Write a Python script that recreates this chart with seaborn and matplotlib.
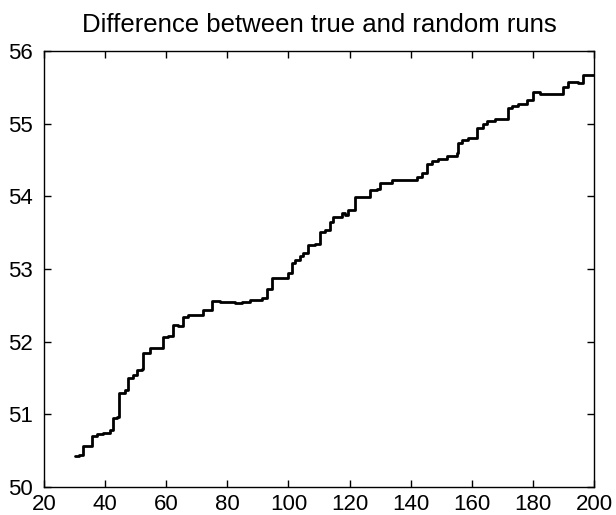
import matplotlib
matplotlib.use("Agg")
import matplotlib.pyplot as plt
import seaborn as sns
import pandas as pd

run_x = [30.1, 31.6, 32.7, 35.1, 35.6, 37.2, 39.4, 41.6, 42.7, 43.8, 44.6, 46.5, 47.6, 49.2,
         50.5, 52.0, 52.5, 54.7, 57.7, 58.8, 60.7, 62.3, 63.9, 65.6, 67.2, 70.5, 72.1, 73.8,
         74.9, 77.6, 82.5, 84.7, 87.4, 91.2, 92.9, 94.5, 98.9, 99.9, 101.1, 102.1, 103.8,
         104.9, 106.5, 108.7, 110.3, 112.0, 113.6, 114.7, 117.4, 118.5, 119.6, 121.8, 125.0,
         126.7, 128.9, 129.9, 132.1, 133.8, 138.7, 142.0, 143.6, 145.2, 146.9, 149.0, 151.8,
         155.0, 155.6, 156.7, 158.8, 161.6, 163.7, 164.9, 167.6, 170.9, 171.9, 173.0, 175.2,
         178.0, 179.9, 182.3, 188.8, 189.9, 191.6, 193.8, 194.9, 196.5, 200.0]
run_diff = [50.42, 50.44, 50.57, 50.57, 50.70, 50.73, 50.75, 50.79, 50.95, 50.97, 51.29, 51.34,
            51.50, 51.54, 51.61, 51.62, 51.85, 51.91, 51.91, 52.06, 52.08, 52.23, 52.21, 52.34,
            52.37, 52.37, 52.43, 52.44, 52.56, 52.54, 52.53, 52.55, 52.57, 52.60, 52.73, 52.88,
            52.88, 52.95, 53.08, 53.12, 53.18, 53.22, 53.33, 53.35, 53.51, 53.54, 53.65, 53.72,
            53.77, 53.75, 53.81, 53.99, 53.99, 54.09, 54.10, 54.18, 54.18, 54.23, 54.23, 54.26,
            54.32, 54.45, 54.48, 54.51, 54.55, 54.59, 54.73, 54.78, 54.80, 54.94, 55.00, 55.04,
            55.06, 55.07, 55.21, 55.24, 55.27, 55.32, 55.43, 55.41, 55.41, 55.50, 55.58, 55.58,
            55.56, 55.67, 55.67]
x_ticks = [20, 40, 60, 80, 100, 120, 140, 160, 180, 200]
y_ticks = [50, 51, 52, 53, 54, 55, 56]
title = "Difference between true and random runs"

sns.set_style("ticks")
plt.rcParams["font.family"] = ["Liberation Sans", "DejaVu Sans"]

df = pd.DataFrame({"x": run_x, "y": run_diff})

fig = plt.figure(figsize=(6.16, 5.15), dpi=100)
ax = fig.add_axes([44 / 616, 1 - 487 / 515, 550 / 616, 436 / 515])
sns.lineplot(data=df, x="x", y="y", ax=ax, color="black", linewidth=2.0,
             drawstyle="steps-post", estimator=None, sort=False)

ax.set_xlim(20, 200)
ax.set_ylim(50, 56)
ax.set_xticks(x_ticks)
ax.set_yticks(y_ticks)
ax.set_xticklabels([str(v) for v in x_ticks])
ax.set_yticklabels([str(v) for v in y_ticks])
ax.set_xlabel("")
ax.set_ylabel("")
for s in ax.spines.values():
    s.set_visible(True)
    s.set_linewidth(1.0)
    s.set_color("black")
ax.tick_params(direction="in", length=5, width=1, top=True, right=True,
               labelsize=16, colors="black", labelcolor="black")
ax.tick_params(axis="y", pad=8)
ax.tick_params(axis="x", pad=5)
ax.set_title(title, fontsize=18.5, pad=14, color="black")

fig.savefig("out.png", dpi=100, facecolor="white")
